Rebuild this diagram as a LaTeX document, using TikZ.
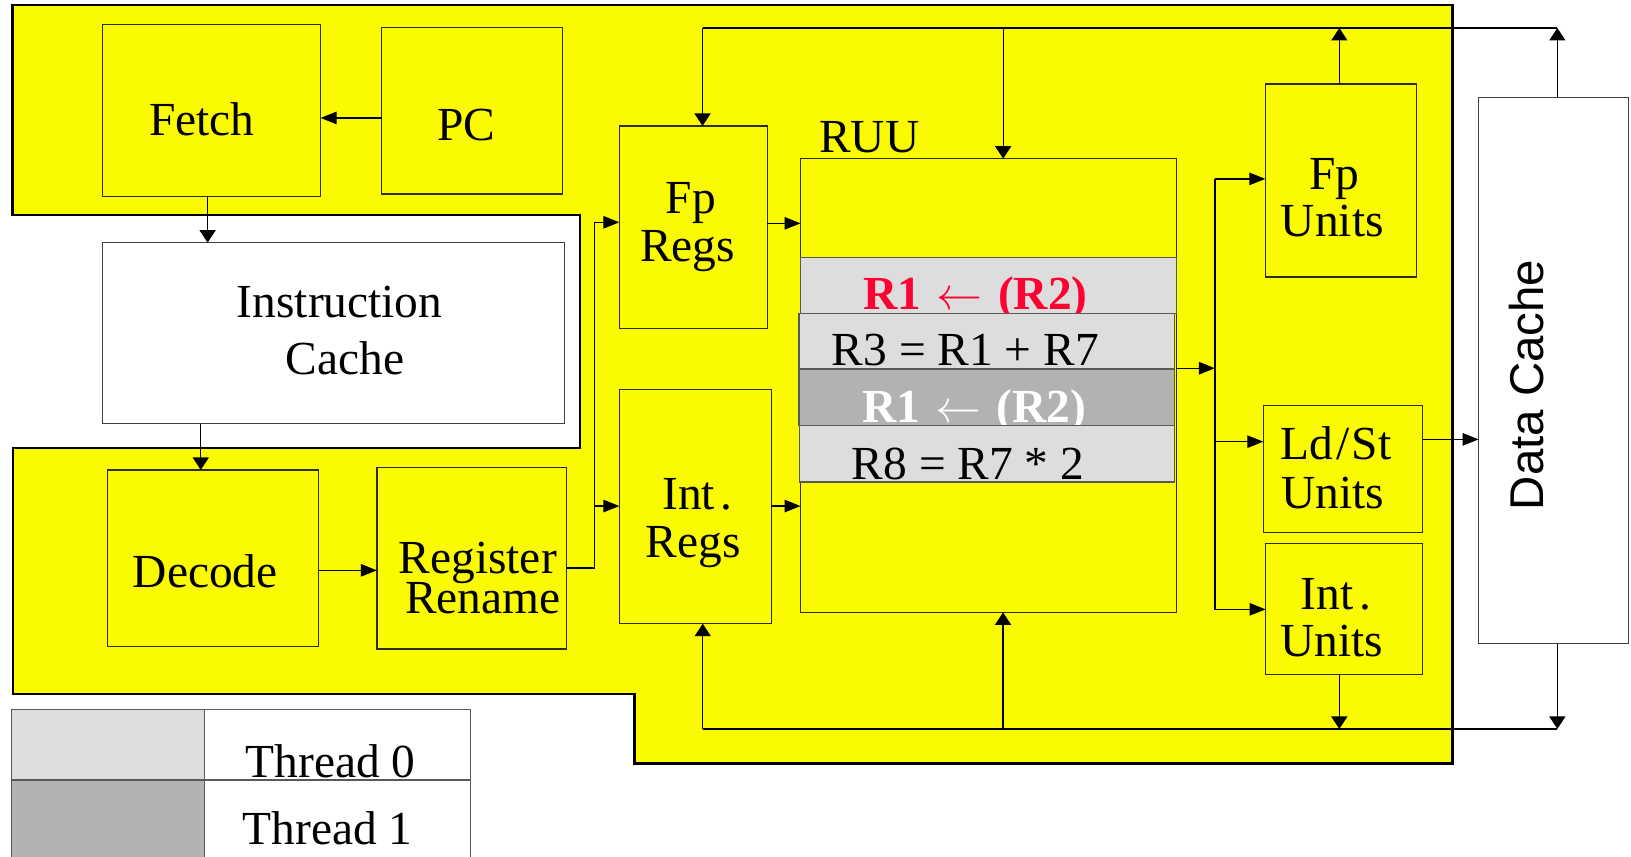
\documentclass[tikz,border=0pt]{standalone}
\usepackage{graphicx}
\usepackage{fontspec}
\setmainfont{Liberation Serif}
\newfontfamily\sansf{Liberation Sans}
\usetikzlibrary{arrows.meta,fit}
\definecolor{ylw}{RGB}{250,250,0}
\definecolor{lgray}{RGB}{221,221,221}
\definecolor{dgray}{RGB}{178,178,178}
\definecolor{rred}{RGB}{255,0,51}
\definecolor{edge}{RGB}{45,45,20}
\newcommand\fsz{\fontsize{22.8pt}{22.8pt}\selectfont}
\newcommand\larr{\hspace{0.32em}\resizebox{0.97em}{!}{$\leftarrow$}\hspace{0.32em}}
\begin{document}
\begin{tikzpicture}[x=0.5pt,y=-0.5pt,
 blk/.style={draw=edge,line width=0.65pt,fill=ylw,inner sep=0pt,outer sep=0pt},
 wblk/.style={blk,fill=white,draw=black!75},
 rowbox/.style={draw=black!65,line width=0.7pt,inner sep=0pt,outer sep=0pt},
 lbl/.style={font=\fsz,anchor=base,inner sep=0pt,outer sep=0pt},
 conn/.style={draw=black,line width=0.6pt},
 harr/.style={conn,-{Triangle[length=7.7pt,width=6pt]}},
 varr/.style={conn,-{Triangle[length=6pt,width=7.7pt]}},
]
\clip (0,0) rectangle (1568,823);
\fill[white] (0,0) rectangle (1568,823);
% processor outline
\draw[fill=ylw,line width=1.1pt,line join=miter] (12,4.5) -- (1396.5,4.5) -- (1396.5,734) -- (610,734) -- (610,667) -- (12.5,667) -- (12.5,430.4) -- (557.7,430.4) -- (557.7,206.7) -- (12,206.7) -- cycle;
% boxes
\node[blk,fit={(98.5,23.5) (308.3,188.7)}] (fetch) {};
\node[blk,fit={(366.8,26.3) (540.5,186.5)}] (pc) {};
\node[wblk,fit={(98.5,233.3) (542.4,407.3)}] (icache) {};
\node[blk,fit={(103.2,451.8) (306,621.4)}] (decode) {};
\node[blk,fit={(362.3,449.6) (544.4,623.9)}] (rename) {};
\node[blk,fit={(595.4,121.1) (737.6,315.6)}] (fpregs) {};
\node[blk,fit={(595.4,374.3) (741.5,599.6)}] (intregs) {};
\node[blk,fit={(769.6,152.5) (1131,588.7)}] (ruu) {};
\node[blk,fit={(1216.4,80.8) (1361.6,266.3)}] (fpunits) {};
\node[blk,fit={(1214.5,389.7) (1367.7,511.8)}] (ldst) {};
\node[blk,fit={(1216.7,522.7) (1367.7,648.3)}] (intunits) {};
\node[wblk,fit={(1421.5,93.6) (1565.7,618.8)}] (dcache) {};
% RUU rows
\node[rowbox,fill=lgray,fit={(769.6,247.4) (1131,301.2)}] (row1) {};
\node[lbl,font=\fsz\bfseries,text=rred] (t1) at (938,298) {R1\larr(R2)};
\node[rowbox,fill=lgray,fit={(768.3,301.2) (1129,354.7)}] (row2) {};
\node[lbl] (t2) at (928,351.5) {R3 = R1 + R7};
\node[rowbox,fill=dgray,fit={(768.3,354.7) (1129,409.2)}] (row3) {};
\node[lbl,font=\fsz\bfseries,text=white] (t3) at (936.4,406.3) {R1\larr(R2)};
\node[rowbox,fill=lgray,fit={(768.8,409.2) (1129,463.4)}] (row4) {};
\node[lbl] (t4) at (930.6,460.8) {R8 = R7 * 2};
% legend
\node[rowbox,fill=lgray,fit={(11.2,682.2) (196.5,749.9)}] (leg0) {};
\node[rowbox,fill=white,fit={(196.5,682.2) (452.4,749.9)}] (leg0t) {};
\node[rowbox,fill=dgray,fit={(11.2,749.9) (196.5,830)}] (leg1) {};
\node[rowbox,fill=white,fit={(196.5,749.9) (452.4,830)}] (leg1t) {};
% named bus points
\coordinate (tbL) at (675.4,26.9);
\coordinate (tbM) at (964.4,26.9);
\coordinate (tbR) at (1497.2,26.9);
\coordinate (bbL) at (675.6,700.8);
\coordinate (bbM) at (964.3,700.8);
\coordinate (bbR) at (1497.2,700.8);
\coordinate (rsplit) at (571.4,546);
\coordinate (dtop) at (1168,172);
\coordinate (dbot) at (1168,586);
% connectors
\draw[harr] (pc.west |- 0,113.4) -- (fetch.east |- 0,113.4);
\draw[varr] (199.6,0 |- fetch.south) -- (199.6,0 |- icache.north);
\draw[varr] (193,0 |- icache.south) -- (193,0 |- decode.north);
\draw[harr] (decode.east |- 0,548.3) -- (rename.west |- 0,548.3);
\draw[harr] (rename.east |- rsplit) -- (rsplit) -- (rsplit |- 0,213.7) -- (fpregs.west |- 0,213.7);
\draw[harr] (rsplit |- 0,486.5) -- (intregs.west |- 0,486.5);
\draw[harr] (fpregs.east |- 0,214.7) -- (ruu.west |- 0,214.7);
\draw[harr] (intregs.east |- 0,486.5) -- (ruu.west |- 0,486.5);
% top bus
\draw[conn] (tbL) -- (tbR);
\draw[varr] (tbL) -- (fpregs.north -| tbL);
\draw[varr] (tbM) -- (ruu.north -| tbM);
\draw[varr] (1287.6,0 |- fpunits.north) -- (1287.6,0 |- tbL);
\draw[varr] (tbR |- dcache.north) -- (tbR);
% bottom bus
\draw[conn] (bbL) -- (bbR);
\draw[varr] (bbL) -- (intregs.south -| bbL);
\draw[varr] (bbM) -- (ruu.south -| bbM);
\draw[varr] (1287.6,0 |- intunits.south) -- (1287.6,0 |- bbL);
\draw[varr] (bbR |- dcache.south) -- (bbR);
% dispatch
\draw[conn] (dtop) -- (dbot);
\draw[harr] (ruu.east |- 0,354) -- (dtop |- 0,354);
\draw[harr] (dtop) -- (fpunits.west |- dtop);
\draw[harr] (dtop |- 0,424.6) -- (ldst.west |- 0,424.6);
\draw[harr] (dtop |- 0,585.8) -- (intunits.west |- 0,585.8);
\draw[harr] (ldst.east |- 0,422.4) -- (dcache.west |- 0,422.4);
% labels
\node[lbl] (tFetch) at (193.9,130.4) {Fetch};
\node[lbl] (tPC) at (448.6,135.5) {PC};
\node[lbl] (tIC1) at (326.5,305.4) {Instruction};
\node[lbl] (tIC2) at (331.9,360.5) {Cache};
\node[lbl] (tDec) at (197.3,565) {Decode};
\node[lbl] (tRR1) at (459.3,551.8) {Register};
\node[lbl] (tRR2) at (464.3,589.6) {Rename};
\node[lbl] (tFR1) at (664,205) {Fp};
\node[lbl] (tFR2) at (661,251.6) {Regs};
\node[lbl] (tIR1) at (670.5,490.3) {Int\hspace{0.12em}.};
\node[lbl] (tIR2) at (666.5,535.8) {Regs};
\node[lbl,anchor=base west] (tRUU) at (787.6,146.8) {RUU};
\node[lbl] (tFU1) at (1283,182) {Fp};
\node[lbl] (tFU2) at (1280.8,227.5) {Units};
\node[lbl] (tLS1) at (1284.2,442.2) {Ld\hspace{0.08em}/\hspace{0.04em}St};
\node[lbl] (tLS2) at (1281.3,488.7) {Units};
\node[lbl] (tIU1) at (1284.2,585.8) {Int\hspace{0.12em}.};
\node[lbl] (tIU2) at (1280.5,631.3) {Units};
\node[lbl,font=\fsz\sansf,rotate=90] (tDC) at (1483.7,370) {Data Cache};
\node[lbl] (tT0) at (317.8,747.3) {Thread 0};
\node[lbl] (tT1) at (314.9,811.4) {Thread 1};
\end{tikzpicture}
\end{document}
